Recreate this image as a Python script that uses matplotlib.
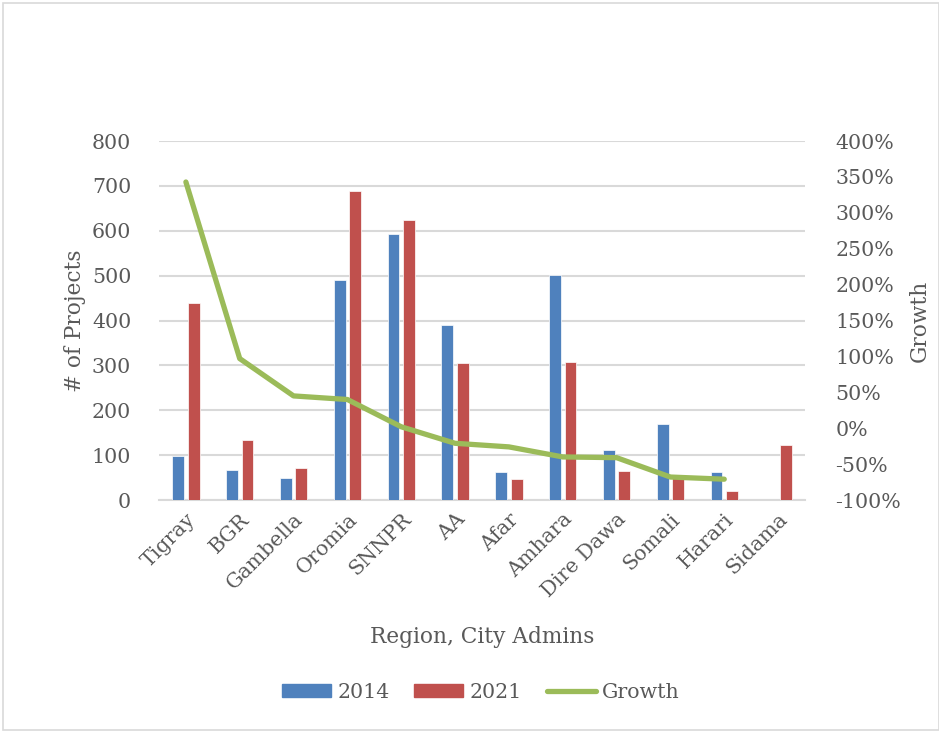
import matplotlib
matplotlib.use("Agg")
import matplotlib.pyplot as plt
import numpy as np
from matplotlib.patches import Rectangle
from matplotlib.lines import Line2D

regions = ["Tigray", "BGR", "Gambella", "Oromia", "SNNPR", "AA", "Afar",
           "Amhara", "Dire Dawa", "Somali", "Harari", "Sidama"]
projects_2014 = [99, 67, 49, 490, 594, 389, 62, 501, 111, 169, 63, 0]
projects_2021 = [438, 134, 72, 689, 623, 305, 46, 308, 65, 54, 19, 123]
growth_pct = [343, 97, 45, 40, 2, -21, -26, -40, -41, -68, -71, np.nan]

left_ticks = [0, 100, 200, 300, 400, 500, 600, 700, 800]
right_ticks = [-100, -50, 0, 50, 100, 150, 200, 250, 300, 350, 400]

TXT = "#595959"
BLUE = "#4F81BD"
RED = "#C0504D"
GREEN = "#9BBB59"
GRID = "#D9D9D9"

plt.rcParams["font.family"] = ["DejaVu Serif"]
FS = 14.8
FT = 15.6

fig = plt.figure(figsize=(9.39, 7.31), dpi=100)
ax = fig.add_axes([0.1693, 0.316, 0.688, 0.491])
ax2 = ax.twinx()

x = np.arange(len(regions))
w = 0.22
off = 0.143
ax.bar(x - off, projects_2014, w, color=BLUE, edgecolor="white", linewidth=0.5, zorder=3, label="2014")
ax.bar(x + off, projects_2021, w, color=RED, edgecolor="white", linewidth=0.5, zorder=3, label="2021")

ax.set_ylim(0, 800)
ax.set_yticks(left_ticks)
ax.set_xlim(-0.5, len(regions) - 0.5)
ax.set_xticks(x)
ax.set_xticklabels(regions, rotation=45, ha="right", rotation_mode="anchor",
                   fontsize=FS, color=TXT)
ax.tick_params(axis="x", length=0, pad=7)
ax.tick_params(axis="y", length=0, labelsize=FS, labelcolor=TXT, pad=20)
ax.grid(axis="y", color=GRID, linewidth=1.5, zorder=0)
ax.set_axisbelow(True)
for s in ax.spines.values():
    s.set_visible(False)
ax.spines["bottom"].set_visible(True)
ax.spines["bottom"].set_color(GRID)
ax.spines["bottom"].set_linewidth(1.5)

ax.set_ylabel("# of Projects", fontsize=FT, color=TXT, labelpad=4)
ax.set_xlabel("Region, City Admins", fontsize=FT, color=TXT, labelpad=18)

ax2.plot(x, growth_pct, color=GREEN, linewidth=3.8, solid_capstyle="round",
         solid_joinstyle="round", zorder=4)
ax2.set_ylim(-100, 400)
ax2.set_yticks(right_ticks)
ax2.set_yticklabels([f"{t}%" for t in right_ticks])
ax2.tick_params(axis="y", length=0, labelsize=FS, labelcolor=TXT, pad=22)
for s in ax2.spines.values():
    s.set_visible(False)
ax2.set_ylabel("Growth", fontsize=FT, color=TXT, labelpad=5)

handles = [Rectangle((0, 0), 1, 1, color=BLUE), Rectangle((0, 0), 1, 1, color=RED),
           Line2D([0], [0], color=GREEN, linewidth=3.8, solid_capstyle="round")]
fig.legend(handles, ["2014", "2021", "Growth"], loc="center", bbox_to_anchor=(0.512, 0.053),
           ncol=3, frameon=False, fontsize=FS, handlelength=2.4, handleheight=0.55,
           handletextpad=0.3, columnspacing=1.2, labelcolor=TXT)

fig.add_artist(Rectangle((2.5 / 939, 1 / 731), 936 / 939, 727 / 731,
                         transform=fig.transFigure, fill=False, edgecolor=GRID, linewidth=1.2))

fig.savefig("out.png", dpi=100, facecolor="white")
